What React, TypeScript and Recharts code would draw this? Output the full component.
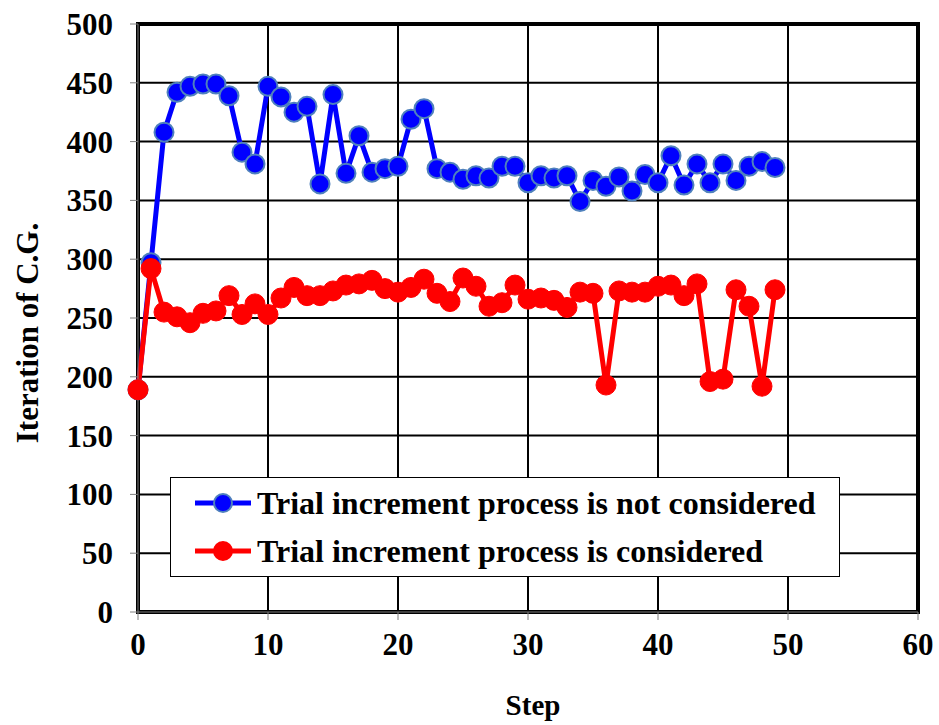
import {
  CartesianGrid,
  Line,
  LineChart,
  ReferenceArea,
  XAxis,
  YAxis,
} from "recharts";

// valeurs
const steps = Array.from({ length: 50 }, (_, i) => i);
const notConsidered = [
  189, 297, 408, 442, 447, 449, 449, 439, 391, 381,
  447, 438, 425, 430, 364, 440, 373, 405, 374, 377,
  379, 419, 428, 377, 374, 368, 371, 369, 379, 379,
  365, 371, 369, 371, 349, 367, 362, 370, 358, 372,
  365, 388, 363, 381, 365, 381, 367, 379, 383, 378,
];
const considered = [
  189, 292, 255, 251, 246, 254, 256, 269, 253, 262,
  253, 267, 276, 269, 269, 273, 278, 279, 282, 275,
  272, 276, 283, 271, 264, 284, 277, 260, 263, 278,
  266, 267, 265, 259, 272, 271, 193, 273, 272, 272,
  277, 278, 269, 279, 196, 198, 274, 260, 192, 274,
];
const xTicks = [0, 10, 20, 30, 40, 50, 60];
const yTicks = [0, 50, 100, 150, 200, 250, 300, 350, 400, 450, 500];

const labelBlue = "Trial increment process is not considered";
const labelRed = "Trial increment process is considered";
const yTitle = "Iteration of C.G.";

const serif = '"Times New Roman", "Liberation Serif", serif';

const rows = steps.map((s, i) => ({
  step: s,
  notConsidered: notConsidered[i],
  considered: considered[i],
}));

// titre vertical un peu plus bas que le centre du tracé, comme l'original
function YTitle() {
  return (
    <text
      x={27}
      y={333}
      transform="rotate(-90 27 333)"
      textAnchor="middle"
      dominantBaseline="central"
      fill="#000"
      fontSize={31}
      fontWeight={700}
      fontFamily={serif}
    >
      {yTitle}
    </text>
  );
}

function LegendBox() {
  const entry = (color: string, stroke: string, text: string) => (
    <div style={{ display: "flex", alignItems: "center", height: 48 }}>
      <svg width={60} height={24} style={{ marginLeft: 22 }}>
        <line x1={2} y1={12} x2={58} y2={12} stroke={color} strokeWidth={5} />
        <circle cx={30} cy={12} r={9} fill={color} stroke={stroke} strokeWidth={2} />
      </svg>
      <span style={{ marginLeft: 4, fontSize: 32, fontWeight: 700, color: "#000" }}>
        {text}
      </span>
    </div>
  );
  return (
    <div
      style={{
        position: "absolute",
        left: 170,
        top: 477,
        border: "1px solid #000",
        background: "#fff",
        width: 668,
        height: 97,
        fontFamily: serif,
        paddingTop: 1,
        boxSizing: "content-box",
      }}
    >
      {entry("#0000ff", "#4f81bd", labelBlue)}
      {entry("#ff0000", "#ff0000", labelRed)}
    </div>
  );
}

export default function App() {
  return (
    <div style={{ position: "absolute", left: 0, top: 0, width: 939, height: 725, background: "#fff" }}>
      <LineChart
        width={939}
        height={725}
        data={rows}
        margin={{ top: 24, right: 21, left: 0, bottom: 0 }}
        style={{ fontFamily: serif }}
      >
        <CartesianGrid stroke="#000" strokeWidth={2} />
        <XAxis
          dataKey="step"
          type="number"
          domain={[0, 60]}
          ticks={xTicks}
          interval={0}
          height={113}
          tickSize={8}
          tickMargin={13}
          stroke="#7f7f7f"
          tick={{ fill: "#000", fontSize: 31, fontWeight: 700 }}
          label={{
            value: "Step",
            position: "insideBottom",
            offset: 10,
            dx: 5,
            fill: "#000",
            fontSize: 29,
            fontWeight: 700,
          }}
        />
        <YAxis
          type="number"
          domain={[0, 500]}
          ticks={yTicks}
          interval={0}
          width={138}
          tickSize={8}
          tickMargin={17}
          stroke="#7f7f7f"
          tick={{ fill: "#000", fontSize: 31, fontWeight: 700 }}
          label={{ content: () => <YTitle /> }}
        />
        <ReferenceArea
          x1={0}
          x2={60}
          y1={0}
          y2={500}
          fill="none"
          stroke="#000"
          strokeWidth={4}
        />
        <Line
          dataKey="notConsidered"
          name={labelBlue}
          stroke="#0000ff"
          strokeWidth={5}
          dot={{ r: 9.5, fill: "#0000ff", stroke: "#4f81bd", strokeWidth: 2 }}
          isAnimationActive={false}
        />
        <Line
          dataKey="considered"
          name={labelRed}
          stroke="#ff0000"
          strokeWidth={5}
          dot={{ r: 10, fill: "#ff0000", stroke: "#ff0000", strokeWidth: 1 }}
          isAnimationActive={false}
        />
      </LineChart>
      <LegendBox />
    </div>
  );
}
